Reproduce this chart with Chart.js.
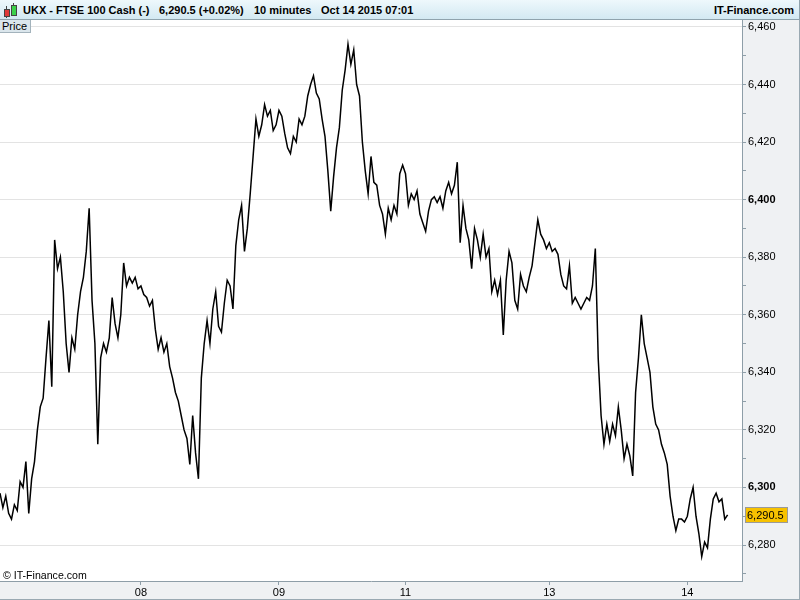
<!DOCTYPE html>
<html>
<head>
<meta charset="utf-8">
<script src="https://cdn.jsdelivr.net/npm/chart.js@4.4.0/dist/chart.umd.min.js"></script>
<style>
  html, body { margin:0; padding:0; background:#fff; }
  #wrap { position:relative; width:800px; height:600px; overflow:hidden; font-family:"Liberation Sans", Arial, sans-serif; }
  #c { position:absolute; left:0; top:0; }
  #hdr { position:absolute; left:0; top:0; width:799px; height:19px; border-bottom:1px solid #8fa3ad; border-right:1px solid #8fa3ad;
         background:linear-gradient(#eef8fc, #d3e9f2); font-weight:bold; font-size:11px; color:#000; }
  #hdr span { position:absolute; top:4px; white-space:nowrap; }
  #price { position:absolute; left:0; top:20px; height:13px; background:#dbe6ec; border-right:1px solid #a3b3bc; border-bottom:1px solid #a3b3bc;
           font-size:11px; line-height:13px; padding-left:2px; box-sizing:border-box; width:31px; }
  #copy { position:absolute; left:3px; top:569px; font-size:10.6px; color:#000; }
  .cd { position:absolute; }
</style>
</head>
<body>
<div id="wrap">
  <canvas id="c" width="800" height="600"></canvas>
  <div id="hdr">
    <div class="cd" style="left:6px;top:6px;width:1px;height:12px;background:#444"></div>
    <div class="cd" style="left:4px;top:9px;width:4px;height:6px;background:#e03a3a;border:1px solid #444"></div>
    <div class="cd" style="left:13px;top:3px;width:1px;height:13px;background:#444"></div>
    <div class="cd" style="left:11px;top:5px;width:4px;height:9px;background:#3bd14a;border:1px solid #444"></div>
    <span style="left:23px">UKX - FTSE 100 Cash (-)</span>
    <span style="left:159px">6,290.5 (+0.02%)</span>
    <span style="left:254px">10 minutes</span>
    <span style="left:321px">Oct 14 2015 07:01</span>
    <span style="right:5px">IT-Finance.com</span>
  </div>
  <div id="price">Price</div>
  <div id="copy">© IT-Finance.com</div>
</div>
<script>
// 10-minute closes, sampled every 3 bars (30 minutes)
const barStep = 3;
const prices = [
  6298,6293,6297,6291,6289,6294,6292,6302,6300,6309,
  6291,6303,6309,6320,6328,6331,6345,6358,6335,6386,
  6376,6380,6368,6350,6340,6352,6348,6360,6368,6373,
  6382,6397,6365,6350,6315,6345,6350,6347,6352,6366,
  6357,6352,6360,6378,6370,6373,6371,6373,6369,6370,
  6367,6366,6363,6365,6355,6348,6352,6347,6350,6342,
  6338,6333,6330,6325,6320,6317,6308,6325,6312,6303,
  6338,6350,6358,6350,6362,6368,6356,6354,6364,6372,
  6370,6362,6384,6393,6398,6382,6390,6402,6415,6428,
  6422,6426,6433,6429,6431,6424,6426,6431,6429,6423,
  6418,6416,6422,6420,6428,6426,6429,6436,6440,6443,
  6437,6435,6428,6422,6410,6396,6408,6418,6425,6438,
  6445,6454,6447,6452,6440,6436,6420,6410,6402,6415,
  6406,6405,6398,6395,6388,6397,6393,6398,6395,6409,
  6412,6409,6398,6402,6400,6403,6395,6392,6389,6396,
  6400,6401,6399,6401,6397,6403,6406,6402,6405,6413,
  6385,6398,6390,6386,6376,6390,6386,6380,6388,6380,
  6383,6368,6372,6367,6372,6353,6372,6382,6378,6365,
  6362,6374,6370,6368,6373,6377,6385,6393,6388,6386,
  6383,6385,6382,6383,6381,6374,6370,6369,6377,6364,
  6366,6364,6362,6364,6366,6365,6370,6383,6345,6325,
  6315,6322,6316,6322,6318,6328,6320,6310,6315,6311,
  6304,6333,6345,6360,6350,6345,6340,6328,6322,6320,
  6315,6312,6308,6297,6290,6285,6289,6289,6288,6290,
  6296,6300,6290,6284,6276,6281,6279,6289,6296,6298,
  6295,6296,6289,6290.5
];
const dayLabels = ['08','09','11','13','14'];
const dayStartBars = [147, 291, 423, 573, 717];
const yTickValues = [6270,6280,6290,6300,6310,6320,6330,6340,6350,6360,6370,6380,6390,6400,6410,6420,6430,6440,6450,6460];
const lastPrice = 6290.5;
const xMinBar = 0, xMaxBar = 774;
const yMin = 6267.5, yMax = 6462.4;

const FONT = '"Liberation Sans", Arial, sans-serif';
const AXIS = '#8e9ea8';

const points = prices.map((p, i) => ({ x: i * barStep, y: p }));

const bgPlugin = {
  id: 'bg',
  beforeDraw(chart) {
    const { ctx, chartArea: a } = chart;
    ctx.save();
    ctx.fillStyle = '#eff1f3';
    ctx.fillRect(0, 0, chart.width, chart.height);
    ctx.fillStyle = '#ffffff';
    ctx.fillRect(a.left, a.top, a.right - a.left, a.bottom - a.top);
    ctx.restore();
  },
  afterDraw(chart) {
    const { ctx } = chart;
    const y = chart.scales.y.getPixelForValue(lastPrice);
    const x0 = chart.chartArea.right + 3;
    ctx.save();
    ctx.fillStyle = '#f7c200';
    ctx.fillRect(x0 + 0.5, Math.round(y) - 7.5, 42, 15);
    ctx.strokeStyle = '#9a9a9a';
    ctx.lineWidth = 1;
    ctx.strokeRect(x0 + 0.5, Math.round(y) - 7.5, 42, 15);
    ctx.fillStyle = '#000';
    ctx.font = '11px ' + FONT;
    ctx.textBaseline = 'middle';
    ctx.fillText(lastPrice.toLocaleString('en-US', { minimumFractionDigits: 1 }), x0 + 2, Math.round(y) + 0.5);
    ctx.strokeStyle = '#9aa9b2';
    ctx.beginPath();
    ctx.moveTo(chart.width - 0.5, 20); ctx.lineTo(chart.width - 0.5, chart.height);
    ctx.moveTo(0, chart.height - 0.5); ctx.lineTo(chart.width, chart.height - 0.5);
    ctx.stroke();
    ctx.restore();
  }
};

new Chart(document.getElementById('c'), {
  type: 'line',
  data: {
    datasets: [{
      data: points,
      borderColor: '#000',
      borderWidth: 1.5,
      pointRadius: 0,
      tension: 0,
      fill: false
    }]
  },
  options: {
    responsive: false,
    animation: false,
    devicePixelRatio: 1,
    layout: { padding: { top: 20, left: 0, right: 0, bottom: 0 } },
    plugins: { legend: { display: false }, tooltip: { enabled: false }, title: { display: false } },
    scales: {
      x: {
        type: 'linear',
        position: 'bottom',
        min: xMinBar,
        max: xMaxBar,
        afterBuildTicks(scale) { scale.ticks = dayStartBars.map(v => ({ value: v })); },
        afterFit(scale) { scale.height = 19; },
        grid: { drawOnChartArea: false, drawTicks: true, tickLength: 4, tickColor: AXIS },
        border: { display: true, color: AXIS },
        ticks: {
          autoSkip: false, maxRotation: 0, padding: 1, color: '#000',
          font: { family: FONT, size: 11 },
          callback(v) { const i = dayStartBars.indexOf(v); return i >= 0 ? dayLabels[i] : ''; }
        }
      },
      y: {
        type: 'linear',
        position: 'right',
        min: yMin,
        max: yMax,
        afterBuildTicks(scale) { scale.ticks = yTickValues.map(v => ({ value: v })); },
        afterFit(scale) { scale.width = 58; },
        grid: {
          drawOnChartArea: true, drawTicks: true, tickLength: 4,
          color: ctx => (ctx.tick && ctx.tick.value % 20 === 0) ? '#e3e3e3' : 'rgba(0,0,0,0)',
          tickColor: AXIS
        },
        border: { display: true, color: AXIS },
        ticks: {
          autoSkip: false, padding: 2, color: '#000',
          font: ctx => ({ family: FONT, size: 11, weight: (ctx.tick && ctx.tick.value % 100 === 0) ? 'bold' : 'normal' }),
          callback(v) { return v % 20 === 0 ? v.toLocaleString('en-US') : ''; }
        }
      }
    }
  },
  plugins: [bgPlugin]
});
</script>
</body>
</html>
